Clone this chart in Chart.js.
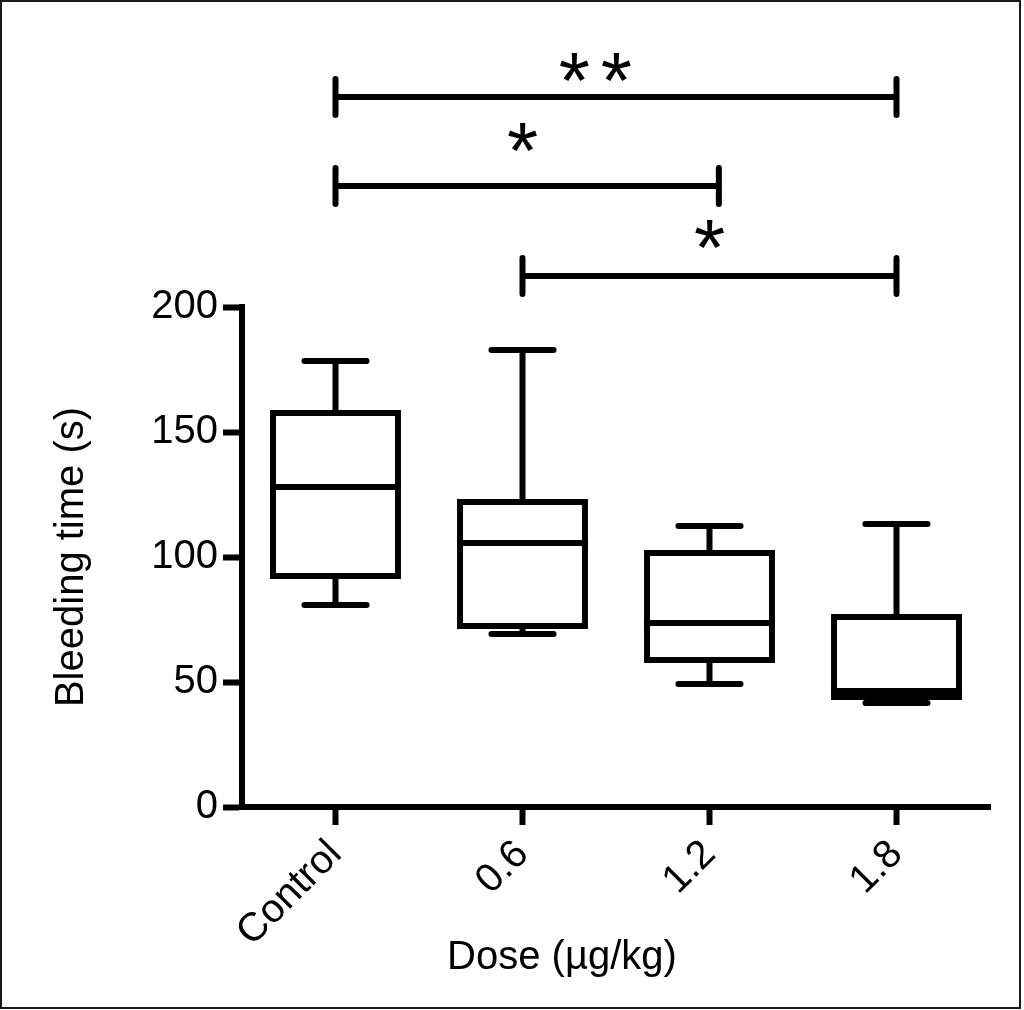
<!DOCTYPE html>
<html>
<head>
<meta charset="utf-8">
<title>Bleeding time</title>
<script src="https://cdn.jsdelivr.net/npm/chart.js@4"></script>
<style>
    body { margin: 0; background: #fff; }
    canvas { display: block; }
</style>
</head>
<body>
<canvas id="bleedingChart" width="1024" height="1010"></canvas>
<script>
const doses = ["Control", "0.6", "1.2", "1.8"];
const whiskerLow = [80.8, 69.2, 49.2, 41.6];
const boxLow = [91.2, 71.2, 57.6, 42.8];
const medians = [128, 105.6, 73.6, 46.4];
const boxHigh = [158.8, 123.2, 102.8, 77.2];
const whiskerHigh = [178.4, 182.8, 112.4, 113.2];
const yTicks = [0, 50, 100, 150, 200];

// significance brackets (x in category units, y in seconds)
const bracketFrom = [0, 0, 1];
const bracketTo = [3, 2.05, 3];
const bracketLevel = [284, 248.4, 212.4];
const bracketStars = ["**", "*", "*"];
const starAt = [1.39, 1.0, 2.0];
const starLevel = [296, 268, 229];

const fontFamily = "'Liberation Sans', Arial, Helvetica, sans-serif";
Chart.defaults.font.family = fontFamily;
Chart.defaults.color = "#000";

const boxPlot = {
    id: "boxPlot",
    beforeDraw(chart) {
        const ctx = chart.ctx;
        ctx.save();
        ctx.fillStyle = "#fff";
        ctx.fillRect(0, 0, chart.width, chart.height);
        ctx.restore();
    },
    afterDatasetsDraw(chart) {
        const ctx = chart.ctx;
        const x = chart.scales.x;
        const y = chart.scales.y;
        const bars = chart.getDatasetMeta(0).data;
        const step = x.getPixelForValue(1) - x.getPixelForValue(0);
        const capHalf = step * 0.166;

        ctx.save();
        ctx.strokeStyle = "#000";
        ctx.lineWidth = 6;

        doses.forEach((d, i) => {
            const cx = x.getPixelForValue(i);
            const bar = bars[i];
            const half = bar.width / 2;

            // whiskers
            ctx.lineCap = "butt";
            ctx.beginPath();
            ctx.moveTo(cx, y.getPixelForValue(boxHigh[i]));
            ctx.lineTo(cx, y.getPixelForValue(whiskerHigh[i]));
            ctx.moveTo(cx, y.getPixelForValue(boxLow[i]));
            ctx.lineTo(cx, y.getPixelForValue(whiskerLow[i]));
            ctx.stroke();

            // caps
            ctx.lineCap = "round";
            ctx.beginPath();
            ctx.moveTo(cx - capHalf, y.getPixelForValue(whiskerHigh[i]));
            ctx.lineTo(cx + capHalf, y.getPixelForValue(whiskerHigh[i]));
            ctx.moveTo(cx - capHalf, y.getPixelForValue(whiskerLow[i]));
            ctx.lineTo(cx + capHalf, y.getPixelForValue(whiskerLow[i]));
            ctx.stroke();

            // median
            ctx.lineCap = "butt";
            ctx.beginPath();
            ctx.moveTo(cx - half, y.getPixelForValue(medians[i]));
            ctx.lineTo(cx + half, y.getPixelForValue(medians[i]));
            ctx.stroke();
        });
        ctx.restore();
    },
    afterDraw(chart) {
        const ctx = chart.ctx;
        const x = chart.scales.x;
        const y = chart.scales.y;
        const area = chart.chartArea;

        ctx.save();
        ctx.strokeStyle = "#000";
        ctx.fillStyle = "#000";
        ctx.lineWidth = 6;
        ctx.lineCap = "round";

        bracketLevel.forEach((lvl, i) => {
            const x1 = x.getPixelForValue(bracketFrom[i]);
            const x2 = x.getPixelForValue(bracketTo[i]);
            const py = y.getPixelForValue(lvl);
            ctx.beginPath();
            ctx.moveTo(x1, py);
            ctx.lineTo(x2, py);
            ctx.moveTo(x1, py - 18);
            ctx.lineTo(x1, py + 18);
            ctx.moveTo(x2, py - 18);
            ctx.lineTo(x2, py + 18);
            ctx.stroke();

            // stars
            ctx.font = "80px " + fontFamily;
            ctx.textAlign = "center";
            ctx.textBaseline = "alphabetic";
            const m = ctx.measureText("*");
            const sy = y.getPixelForValue(starLevel[i]) +
                (m.actualBoundingBoxAscent - m.actualBoundingBoxDescent) / 2;
            const sx = x.getPixelForValue(starAt[i]);
            const n = bracketStars[i].length;
            for (let k = 0; k < n; k++) {
                ctx.fillText("*", sx + (k - (n - 1) / 2) * 42, sy);
            }
        });

        // x axis title
        ctx.font = "40px " + fontFamily;
        ctx.textAlign = "center";
        ctx.textBaseline = "alphabetic";
        ctx.fillText("Dose (µg/kg)", (area.left + area.right) / 2 - 54, 969);

        // frame
        ctx.lineWidth = 2;
        ctx.lineCap = "butt";
        ctx.strokeStyle = "#1a1a1a";
        ctx.strokeRect(1, 1, 1019, 1007);
        ctx.restore();
    }
};

const bleedingChart = document.getElementById("bleedingChart");

new Chart(bleedingChart, {
    type: "bar",
    data: {
        labels: doses,
        datasets: [{
            label: "Bleeding time",
            data: boxLow.map((lo, i) => [lo, boxHigh[i]]),
            backgroundColor: "#fff",
            borderColor: "#000",
            borderWidth: 6,
            borderSkipped: false,
            barPercentage: 0.7,
            categoryPercentage: 1
        }]
    },
    options: {
        responsive: false,
        animation: false,
        devicePixelRatio: 1,
        layout: {
            padding: { top: 307, right: 34, bottom: 0, left: 44 }
        },
        plugins: {
            legend: { display: false },
            tooltip: { enabled: false }
        },
        scales: {
            x: {
                offset: true,
                grid: {
                    display: true,
                    drawOnChartArea: false,
                    drawTicks: true,
                    offset: false,
                    tickLength: 18,
                    tickWidth: 6,
                    tickColor: "#000"
                },
                border: { display: true, color: "#000", width: 6 },
                ticks: {
                    color: "#000",
                    font: { size: 40 },
                    minRotation: 45,
                    maxRotation: 45,
                    padding: 6
                },
                afterFit(scale) {
                    scale.height = 203;
                }
            },
            y: {
                min: 0,
                max: 200,
                afterBuildTicks(scale) {
                    scale.ticks = yTicks.map(v => ({ value: v }));
                },
                grid: {
                    display: true,
                    drawOnChartArea: false,
                    drawTicks: true,
                    tickLength: 19,
                    tickWidth: 6,
                    tickColor: "#000"
                },
                border: { display: true, color: "#000", width: 6 },
                ticks: {
                    color: "#000",
                    font: { size: 40 },
                    padding: 5
                },
                title: {
                    display: true,
                    text: "Bleeding time (s)",
                    color: "#000",
                    font: { size: 40 }
                },
                afterFit(scale) {
                    scale.width = 198;
                }
            }
        }
    },
    plugins: [boxPlot]
});
</script>
</body>
</html>
